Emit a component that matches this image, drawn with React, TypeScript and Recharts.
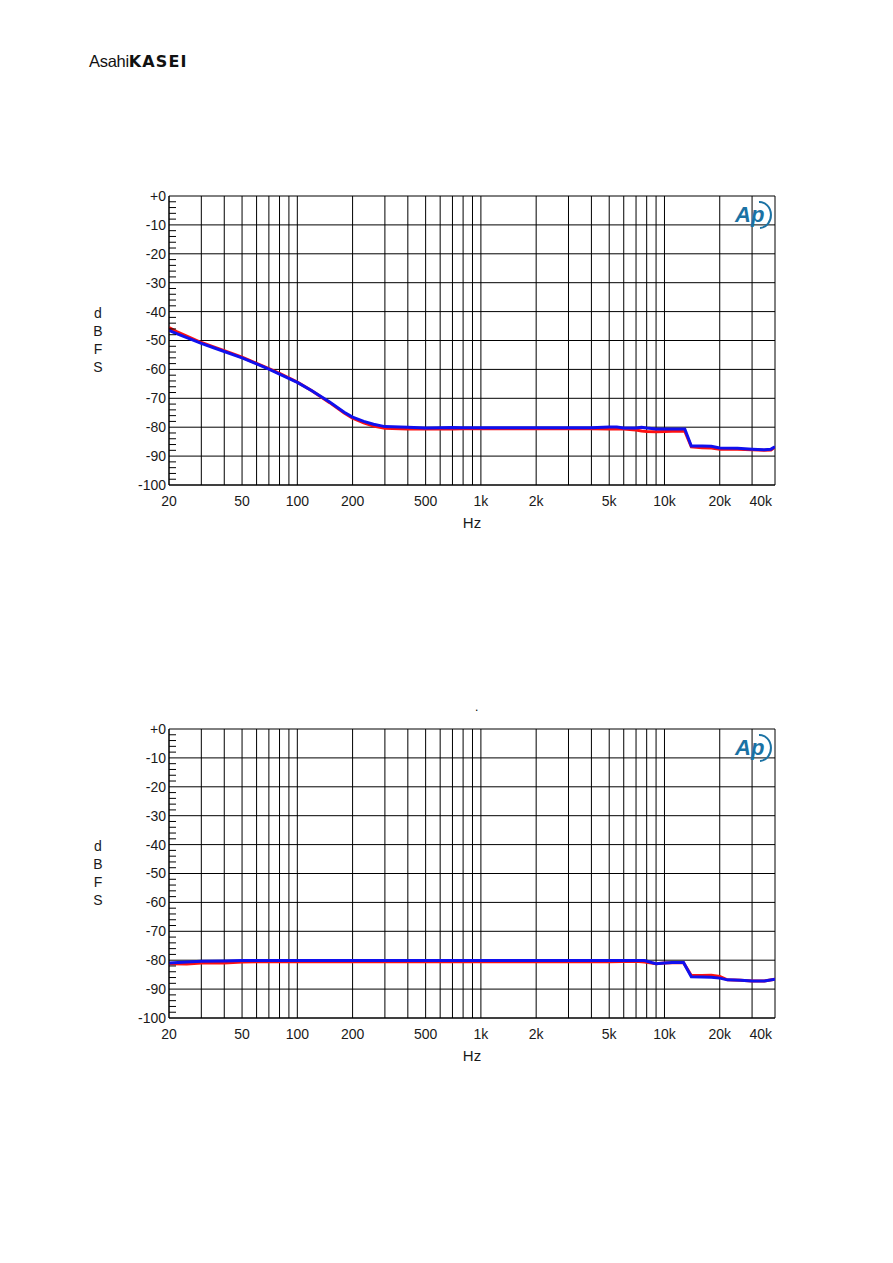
import React from "react";
import { LineChart, Line, XAxis, YAxis, CartesianGrid, ReferenceLine } from "recharts";

// upper plot: frequency (Hz) vs level (dBFS)
const freqTop = [
  20, 22, 25, 30, 35, 40, 50, 60, 70, 80, 100, 120, 150, 180, 200, 230, 260, 300,
  400, 500, 600, 700, 800, 1000, 1500, 2000, 3000, 4000, 5000, 5500, 6000, 7000,
  7500, 8000, 9000, 10000, 11000, 12000, 12900, 14000, 16000, 18000, 20000, 25000,
  30000, 35000, 38000, 40000,
];
const blueTop = [
  -46.5, -47.6, -49.0, -51.0, -52.5, -53.8, -56.0, -58.1, -59.9, -61.6, -64.5, -67.4,
  -71.3, -74.8, -76.5, -78.0, -79.0, -79.8, -80.0, -80.3, -80.2, -80.1, -80.2, -80.2,
  -80.2, -80.2, -80.2, -80.2, -79.9, -79.9, -80.3, -80.3, -80.0, -80.3, -80.6, -80.6,
  -80.6, -80.6, -80.6, -86.5, -86.5, -86.6, -87.2, -87.3, -87.6, -87.8, -87.6, -86.8,
];
const redTop = [
  -45.5, -46.9, -48.5, -50.7, -52.2, -53.5, -55.8, -57.9, -59.7, -61.4, -64.4, -67.4,
  -71.5, -75.1, -76.9, -78.5, -79.6, -80.4, -80.6, -80.6, -80.5, -80.6, -80.5, -80.5,
  -80.5, -80.5, -80.5, -80.5, -80.6, -80.6, -80.6, -81.0, -81.3, -81.5, -81.6, -81.5,
  -81.4, -81.4, -81.4, -86.8, -87.1, -87.2, -87.6, -87.6, -87.8, -88.0, -87.9, -86.9,
];

// lower plot
const freqBottom = [
  20, 25, 30, 40, 50, 100, 200, 500, 1000, 2000, 5000, 7000, 7800, 8500, 9000, 10000,
  11000, 12700, 14000, 16000, 18000, 20000, 22000, 26000, 30000, 35000, 40000,
];
const blueBottom = [
  -81.0, -80.6, -80.4, -80.3, -80.1, -80.1, -80.1, -80.1, -80.1, -80.1, -80.1, -80.1,
  -80.1, -80.8, -81.2, -81.0, -80.8, -80.8, -85.7, -85.8, -85.9, -86.2, -86.8, -86.9,
  -87.2, -87.2, -86.6,
];
const redBottom = [
  -81.2, -81.3, -81.0, -81.0, -80.6, -80.5, -80.5, -80.5, -80.5, -80.5, -80.5, -80.4,
  -80.6, -81.0, -81.2, -81.0, -80.9, -80.9, -85.3, -85.3, -85.2, -85.6, -86.8, -86.9,
  -87.2, -87.2, -86.6,
];

const dbMajor = [-100, -90, -80, -70, -60, -50, -40, -30, -20, -10, 0];
const dbTicks: number[] = [];
for (let v = -100; v <= 0; v += 2) dbTicks.push(v);

const freqTicks = [
  20, 30, 40, 50, 60, 70, 80, 90, 100, 200, 300, 400, 500, 600, 700, 800, 900, 1000,
  2000, 3000, 4000, 5000, 6000, 7000, 8000, 9000, 10000, 20000, 30000, 40000,
];
const freqLabels: Record<number, string> = {
  20: "20", 50: "50", 100: "100", 200: "200", 500: "500", 1000: "1k", 2000: "2k",
  5000: "5k", 10000: "10k", 20000: "20k", 40000: "40k",
};

const FONT = "'Liberation Sans', Arial, sans-serif";
const INK = "#1a1a1a";

const FreqTick = ({ x, y, payload }: any) => {
  const label = freqLabels[payload.value];
  if (!label) return null;
  const end = payload.value === 40000;
  return (
    <text x={end ? x - 3 : x} y={y} dy="0.71em" textAnchor={end ? "end" : "middle"}
      fontFamily={FONT} fontSize={14} fill={INK}>
      {label}
    </text>
  );
};

// labels on the tens, short inward ticks on the 2 dB steps
const DbTick = ({ x, y, payload }: any) => {
  const v = payload.value;
  const axisX = x + 3;
  if (v % 10 !== 0) {
    return <line x1={axisX} x2={axisX + 7} y1={y} y2={y} stroke="#000" strokeWidth={1} />;
  }
  return (
    <text x={x} y={y} dy="0.355em" textAnchor="end" fontFamily={FONT} fontSize={14} fill={INK}>
      {v === 0 ? "+0" : String(v)}
    </text>
  );
};

const ApLogo = ({ left, top }: { left: number; top: number }) => (
  <svg width={42} height={32} style={{ position: "absolute", left, top }}>
    <text x={1} y={23} fontFamily={FONT} fontStyle="italic" fontWeight={700} fontSize={22}
      fill="#1a72a4">Ap</text>
    <path d="M 25 3 A 11 12.5 0 0 1 26 29" fill="none" stroke="#1a72a4" strokeWidth={2} />
  </svg>
);

function Plot({ top, freqs, blue, red }: { top: number; freqs: number[]; blue: number[]; red: number[] }) {
  const rows = freqs.map((f, i) => ({ f, blue: blue[i], red: red[i] }));
  return (
    <div style={{ position: "absolute", left: 0, top: top - 20 }}>
      <LineChart width={893} height={349} data={rows}
        margin={{ top: 20, right: 118, bottom: 10, left: 109 }}>
        <CartesianGrid stroke="#000" strokeWidth={1} horizontal={false} />
        {dbMajor.map((v) => (
          <ReferenceLine key={v} y={v} stroke="#000" strokeWidth={1} />
        ))}
        <XAxis dataKey="f" type="number" scale="log" domain={[20, 40000]} ticks={freqTicks}
          interval={0} allowDataOverflow tick={FreqTick} tickLine={false} tickSize={11}
          tickMargin={0} axisLine={{ stroke: "#000" }} height={30} />
        <YAxis type="number" domain={[-100, 0]} ticks={dbTicks} interval={0} width={60}
          tickLine={false} tickSize={3} tickMargin={0} axisLine={{ stroke: "#000" }}
          tick={DbTick} />
        <Line dataKey="red" type="linear" stroke="#ff1010" strokeWidth={3} dot={false}
          isAnimationActive={false} />
        <Line dataKey="blue" type="linear" stroke="#1010ee" strokeWidth={3} dot={false}
          isAnimationActive={false} />
      </LineChart>
      <ApLogo left={734} top={20 + 3} />
      <div style={{ position: "absolute", left: 90, top: 20 + 108, width: 16, fontFamily: FONT,
        fontSize: 14, color: INK, lineHeight: "18px", textAlign: "center" }}>
        <div>d</div><div>B</div><div>F</div><div>S</div>
      </div>
      <div style={{ position: "absolute", left: 452, top: 20 + 318, width: 40, textAlign: "center",
        fontFamily: FONT, fontSize: 15, color: INK }}>Hz</div>
    </div>
  );
}

export default function App() {
  return (
    <div style={{ position: "absolute", left: 0, top: 0, width: 893, height: 1263, background: "#fff" }}>
      <div style={{ position: "absolute", left: 89, top: 51, whiteSpace: "nowrap", color: "#111", lineHeight: "20px" }}>
        <span style={{ fontFamily: FONT, fontSize: 16.5, letterSpacing: -0.3 }}>Asahi</span>
        <span style={{ fontFamily: "'DejaVu Sans', sans-serif", fontWeight: 700, fontSize: 16, letterSpacing: 1.1 }}>KASEI</span>
      </div>
      <Plot top={195.5} freqs={freqTop} blue={blueTop} red={redTop} />
      <div style={{ position: "absolute", left: 475, top: 700, fontFamily: FONT, fontSize: 12 }}>.</div>
      <Plot top={728.7} freqs={freqBottom} blue={blueBottom} red={redBottom} />
    </div>
  );
}
